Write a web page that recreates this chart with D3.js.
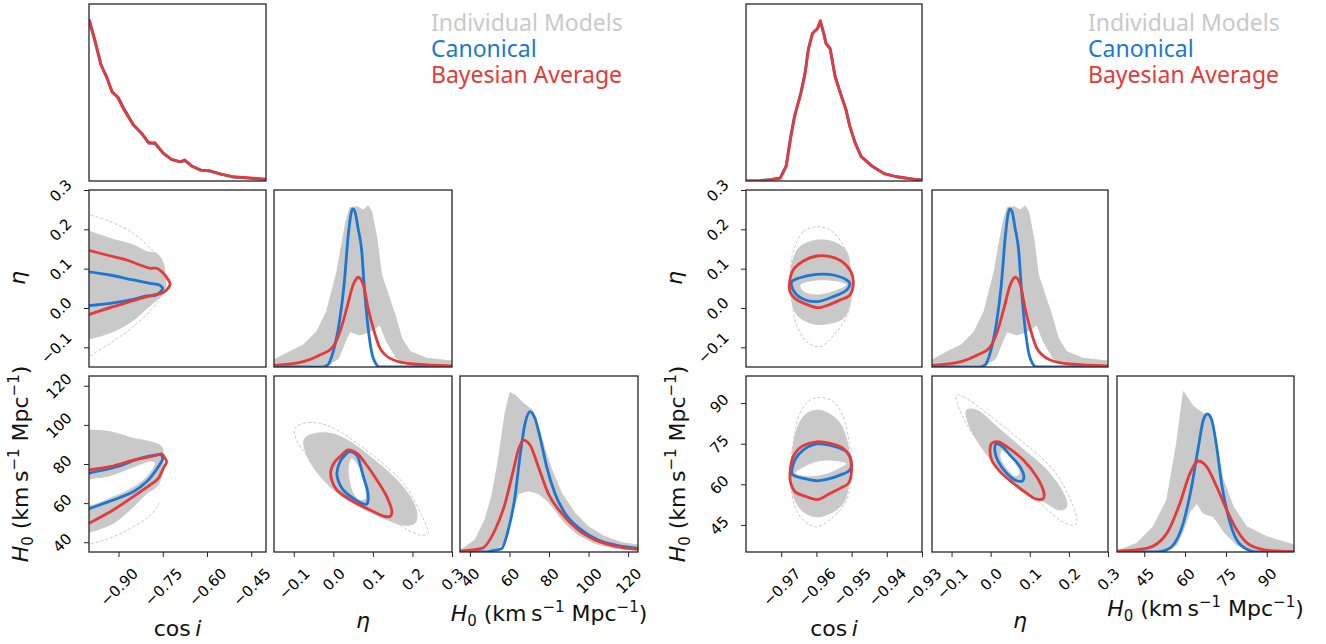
<!DOCTYPE html>
<html>
<head>
<meta charset="utf-8">
<script src="https://cdn.jsdelivr.net/npm/d3@7"></script>
<style>
  body { margin: 0; background: #fff; }
  text { white-space: pre; }
</style>
</head>
<body>
<svg id="chart" width="1326" height="644"></svg>
<script>
// ---- axis ranges and ticks ----
var leftCosRange  = [-1.0, -0.4],  rightCosRange = [-0.98, -0.93];
var etaRange      = [-0.15, 0.3];
var leftH0Range   = [35, 125],     rightH0Range  = [35, 100];
var leftCosTicks  = [-0.90, -0.75, -0.60, -0.45];
var rightCosTicks = [-0.97, -0.96, -0.95, -0.94, -0.93];
var etaTicks      = [-0.1, 0.0, 0.1, 0.2, 0.3];
var leftH0Ticks   = [40, 60, 80, 100, 120];
var rightH0Ticks  = [45, 60, 75, 90];
var legendLabels  = ['Individual Models', 'Canonical', 'Bayesian Average'];

// ---- 1d marginals: [value, density as fraction of panel height] ----
var leftCosRed  = [[-1.0,0.915],[-0.997,0.897],[-0.98,0.797],[-0.959,0.655],[-0.938,0.58],[-0.923,0.505],[-0.904,0.476],[-0.881,0.401],[-0.85,0.316],[-0.821,0.269],[-0.797,0.213],[-0.776,0.216],[-0.748,0.156],[-0.72,0.122],[-0.692,0.109],[-0.675,0.119],[-0.652,0.085],[-0.624,0.062],[-0.59,0.058],[-0.556,0.04],[-0.511,0.024],[-0.465,0.019],[-0.4,0.01]];
var leftCosBlue = [[-1.0,0.91],[-0.98,0.79],[-0.96,0.66],[-0.94,0.585],[-0.92,0.5],[-0.9,0.47],[-0.88,0.405],[-0.85,0.32],[-0.82,0.265],[-0.8,0.22],[-0.776,0.21],[-0.75,0.16],[-0.72,0.12],[-0.69,0.108],[-0.675,0.115],[-0.65,0.083],[-0.62,0.062],[-0.59,0.056],[-0.55,0.038],[-0.51,0.022],[-0.46,0.016],[-0.4,0.008]];
var rightCosRed  = [[-0.98,0],[-0.976,0.002],[-0.9735,0.006],[-0.9703,0.015],[-0.9686,0.081],[-0.9674,0.232],[-0.9662,0.363],[-0.9644,0.495],[-0.9632,0.608],[-0.9623,0.74],[-0.9611,0.834],[-0.9597,0.862],[-0.9589,0.906],[-0.9579,0.834],[-0.9573,0.778],[-0.9561,0.75],[-0.9547,0.589],[-0.9532,0.495],[-0.9516,0.401],[-0.9505,0.307],[-0.949,0.213],[-0.9473,0.137],[-0.9443,0.085],[-0.9407,0.04],[-0.9372,0.024],[-0.9325,0.011],[-0.93,0.006]];
var rightCosBlue = [[-0.98,0],[-0.976,0.002],[-0.9735,0.007],[-0.9703,0.017],[-0.9686,0.085],[-0.9674,0.24],[-0.9662,0.37],[-0.9644,0.5],[-0.9632,0.615],[-0.9623,0.745],[-0.9611,0.835],[-0.9597,0.86],[-0.9589,0.9],[-0.9579,0.83],[-0.9573,0.78],[-0.9561,0.745],[-0.9547,0.595],[-0.9532,0.5],[-0.9516,0.405],[-0.9505,0.31],[-0.949,0.218],[-0.9473,0.14],[-0.9443,0.087],[-0.9407,0.042],[-0.9372,0.024],[-0.9325,0.011],[-0.93,0.006]];

var etaBlue = [[-0.15,0],[-0.03,0],[-0.015,0.01],[0,0.09],[0.015,0.25],[0.027,0.46],[0.038,0.75],[0.045,0.87],[0.049,0.893],[0.055,0.875],[0.062,0.79],[0.072,0.65],[0.078,0.46],[0.088,0.22],[0.101,0.05],[0.118,0.0],[0.3,0]];
var etaRed  = [[-0.15,0.009],[-0.076,0.03],[-0.034,0.068],[-0.004,0.106],[0.017,0.2],[0.034,0.332],[0.05,0.463],[0.063,0.507],[0.076,0.463],[0.088,0.332],[0.101,0.218],[0.118,0.106],[0.152,0.04],[0.202,0.017],[0.3,0.006]];
var etaGreyTop    = [[-0.15,0.04],[-0.11,0.087],[-0.076,0.124],[-0.042,0.2],[-0.017,0.313],[0.009,0.539],[0.03,0.802],[0.042,0.9],[0.059,0.906],[0.076,0.887],[0.088,0.911],[0.097,0.877],[0.11,0.727],[0.122,0.52],[0.139,0.407],[0.156,0.294],[0.173,0.162],[0.194,0.087],[0.236,0.049],[0.3,0.034]];
var etaGreyBottom = [[0.3,0.006],[0.194,0.011],[0.16,0.049],[0.135,0.143],[0.118,0.237],[0.093,0.2],[0.067,0.181],[0.042,0.2],[0.03,0.143],[0.013,0.049],[-0.008,0.015],[-0.15,0.006]];

var leftH0Blue = [[35,0],[48,0],[51.0,0.006],[56.1,0.02],[59.4,0.125],[62.8,0.314],[65.3,0.541],[67.9,0.731],[70.4,0.797],[72.9,0.76],[75.4,0.655],[78.8,0.485],[83.0,0.333],[88.1,0.22],[96.5,0.125],[104.9,0.068],[113.4,0.04],[125,0.02]];
var leftH0Red  = [[35,0.005],[46.0,0.02],[52.7,0.125],[57.8,0.276],[62.0,0.466],[64.5,0.58],[67.0,0.636],[70.4,0.608],[74.6,0.485],[79.6,0.333],[86.4,0.22],[94.8,0.125],[103.3,0.068],[113.4,0.034],[125,0.016]];
var leftH0GreyTop    = [[35,0.008],[42.6,0.068],[47.6,0.182],[51.0,0.314],[54.4,0.523],[57.8,0.788],[60.3,0.905],[62.8,0.892],[66.2,0.854],[71.3,0.807],[74.6,0.712],[78.0,0.58],[81.4,0.466],[86.4,0.333],[93.1,0.22],[99.9,0.144],[108.3,0.087],[116.8,0.053],[125,0.04]];
var leftH0GreyBottom = [[125,0.008],[113.4,0.021],[103.3,0.049],[94.8,0.097],[88.1,0.163],[83.0,0.239],[79.6,0.286],[74.6,0.333],[69.5,0.348],[64.5,0.333],[62.0,0.239],[59.4,0.125],[56.9,0.049],[52.7,0.011],[35,0.002]];

var rightH0Blue = [[35,0],[50,0],[52.0,0.006],[55.1,0.03],[59.3,0.163],[62.4,0.371],[64.9,0.598],[66.7,0.75],[68.2,0.784],[69.8,0.75],[71.6,0.598],[73.4,0.39],[75.9,0.201],[79.0,0.068],[83.2,0.011],[86,0],[100,0]];
var rightH0Red  = [[35,0.005],[45.9,0.021],[53.3,0.106],[58.1,0.277],[61.8,0.447],[64.9,0.517],[67.9,0.485],[71.6,0.371],[75.3,0.239],[79.0,0.125],[83.8,0.04],[91.2,0.008],[100,0.002]];
var rightH0GreyTop    = [[35,0.006],[42.2,0.049],[48.3,0.144],[53.3,0.295],[56.9,0.617],[59.4,0.911],[63.0,0.826],[66.7,0.788],[69.2,0.769],[71.6,0.598],[74.0,0.409],[77.7,0.257],[82.6,0.144],[90.0,0.087],[100,0.04]];
var rightH0GreyBottom = [[100,0.002],[85.1,0.011],[79.0,0.04],[74.7,0.106],[70.4,0.201],[66.7,0.22],[64.3,0.277],[61.8,0.229],[59.4,0.125],[56.9,0.04],[53.3,0.008],[35,0.002]];

// ---- 2d contours: [x value, y value] ----
// left corner, eta vs cos i (open at the left edge)
var leftEtaCosRed  = [[-1.005,0.1475],[-0.94,0.1347],[-0.872,0.122],[-0.827,0.1093],[-0.793,0.101],[-0.771,0.101],[-0.748,0.0883],[-0.731,0.0712],[-0.725,0.061],[-0.737,0.0458],[-0.754,0.0374],[-0.782,0.033],[-0.804,0.0288],[-0.85,0.0186],[-0.918,0.0033],[-1.005,-0.0178]];
var leftEtaCosBlue = [[-1.005,0.0923],[-0.929,0.0839],[-0.85,0.0712],[-0.793,0.0628],[-0.762,0.0585],[-0.754,0.0542],[-0.75,0.05],[-0.771,0.033],[-0.804,0.0305],[-0.85,0.0221],[-0.929,0.0119],[-1.005,0.0059]];
var leftEtaCosGrey = [[-1.01,0.198],[-0.929,0.177],[-0.85,0.16],[-0.804,0.143],[-0.771,0.139],[-0.748,0.114],[-0.742,0.08],[-0.739,0.063],[-0.748,0.037],[-0.771,0.02],[-0.804,-0.001],[-0.85,-0.031],[-0.918,-0.06],[-1.01,-0.081]];
var leftEtaCosDashTop    = [[-1.01,0.24],[-0.93,0.22],[-0.85,0.19],[-0.79,0.15],[-0.765,0.13]];
var leftEtaCosDashBottom = [[-1.01,-0.128],[-0.929,-0.09],[-0.85,-0.0475],[-0.771,0.012],[-0.752,0.04]];

// left corner, H0 vs cos i
var leftH0CosRed  = [[-1.005,76.9],[-0.929,78.6],[-0.85,82.0],[-0.804,83.4],[-0.771,84.6],[-0.754,85.1],[-0.742,82.9],[-0.737,81.2],[-0.748,77.8],[-0.765,72.7],[-0.793,69.3],[-0.85,63.3],[-0.918,56.5],[-1.005,49.3]];
var leftH0CosBlue = [[-1.005,75.2],[-0.906,78.6],[-0.827,82.9],[-0.771,84.6],[-0.756,84.6],[-0.75,82.9],[-0.765,78.6],[-0.804,71.0],[-0.85,65.8],[-0.918,61.6],[-1.005,56.9]];
var leftH0CosGrey = [[-1.01,97.4],[-0.929,96.5],[-0.85,93.1],[-0.793,91.4],[-0.754,88.8],[-0.748,82.0],[-0.754,73.5],[-0.771,68.4],[-0.804,65.0],[-0.85,58.2],[-0.918,49.7],[-1.01,44.6]];
var leftH0CosHole = [[-1.01,71],[-0.93,74],[-0.85,78.5],[-0.79,81.5],[-0.775,80.5],[-0.8,74],[-0.85,68],[-0.92,63],[-1.01,59]];
var leftH0CosDash = [[-1.01,38.6],[-0.93,42],[-0.85,47.9],[-0.79,54],[-0.76,60]];

// left corner, H0 vs eta
var leftH0EtaRed  = [[0.038,87.2],[0.059,85.5],[0.084,79.5],[0.11,71.8],[0.135,63.3],[0.148,55.6],[0.143,53.1],[0.126,53.4],[0.093,56.5],[0.05,60.8],[0.009,66.7],[-0.004,71.8],[-0.006,76.9],[0.004,81.2],[0.021,84.6]];
var leftH0EtaBlue = [[0.042,86.3],[0.059,84.6],[0.067,80.4],[0.076,73.5],[0.086,66.7],[0.088,61.6],[0.084,59.4],[0.072,59.9],[0.05,62.5],[0.025,66.7],[0.013,71.0],[0.009,75.2],[0.017,81.2],[0.03,84.6]];
var leftH0EtaGrey = [[-0.072,93.1],[-0.042,95.7],[0.0,95.3],[0.042,91.4],[0.093,83.7],[0.152,73.5],[0.194,63.3],[0.211,54.8],[0.206,49.7],[0.177,48.8],[0.118,53.1],[0.05,59.9],[-0.008,68.4],[-0.051,78.6],[-0.072,87.2]];
var leftH0EtaHole = [[0.046,82.9],[0.063,79.5],[0.076,71.8],[0.083,62.5],[0.067,61.3],[0.05,65.0],[0.04,71.8],[0.038,78.6]];
var leftH0EtaDash = [[-0.097,98.2],[-0.076,100.8],[-0.034,100.8],[0.009,97.4],[0.093,85.5],[0.177,70.1],[0.236,47.9],[0.24,44.5],[0.219,43.7],[0.16,49.7],[0.05,63.3],[-0.034,76.9],[-0.093,92.3]];

// right corner, eta vs cos i
var rightEtaCosRed  = [[-0.9677,0.0585],[-0.9666,0.0966],[-0.9637,0.1195],[-0.9599,0.1322],[-0.9561,0.1305],[-0.9524,0.1161],[-0.9502,0.0923],[-0.9495,0.0653],[-0.9505,0.033],[-0.9533,0.0203],[-0.9561,0.0093],[-0.9595,0.0008],[-0.9628,0.0093],[-0.9661,0.0246],[-0.9675,0.0415]];
var rightEtaCosBlue = [[-0.967,0.0669],[-0.9647,0.077],[-0.9599,0.0855],[-0.9552,0.0839],[-0.9514,0.0712],[-0.9505,0.0627],[-0.9514,0.0458],[-0.9552,0.0288],[-0.9599,0.0161],[-0.9642,0.0246],[-0.9666,0.0458]];
var rightEtaCosGrey = [[-0.967,0.1093],[-0.9651,0.1517],[-0.9618,0.1686],[-0.958,0.1729],[-0.9542,0.1644],[-0.9514,0.1432],[-0.9505,0.1093],[-0.95,0.0585],[-0.9505,0.0076],[-0.9524,-0.0262],[-0.9561,-0.0389],[-0.9599,-0.0415],[-0.9637,-0.0305],[-0.9661,-0.0094],[-0.967,0.0246],[-0.9673,0.0669]];
var rightEtaCosHole = [[-0.9647,0.0585],[-0.9599,0.0712],[-0.9533,0.0669],[-0.9514,0.0585],[-0.9552,0.0415],[-0.9599,0.033],[-0.9637,0.0415]];
var rightEtaCosDash = [[-0.9666,0.1432],[-0.9637,0.194],[-0.9599,0.2067],[-0.9561,0.1983],[-0.9524,0.1602],[-0.9505,0.1093],[-0.95,0.05],[-0.9509,-0.0094],[-0.9542,-0.0601],[-0.959,-0.0983],[-0.9628,-0.0856],[-0.9656,-0.0432],[-0.967,0.0161],[-0.9675,0.0839]];

// right corner, H0 vs cos i
var rightH0CosRed  = [[-0.9675,64.1],[-0.9666,70.2],[-0.9642,73.9],[-0.9599,75.7],[-0.9561,75.1],[-0.9524,73.3],[-0.9505,70.2],[-0.95,65.3],[-0.9509,60.4],[-0.9533,58.5],[-0.9561,56.7],[-0.9595,54.4],[-0.9628,55.4],[-0.9661,57.3],[-0.9673,60.4]];
var rightH0CosBlue = [[-0.967,64.1],[-0.9661,69.0],[-0.9637,72.7],[-0.9599,74.9],[-0.9552,74.1],[-0.9514,72.0],[-0.9502,69.0],[-0.9505,65.3],[-0.9533,63.4],[-0.9571,61.8],[-0.9599,61.3],[-0.9637,62.2],[-0.9666,63.4]];
var rightH0CosGrey = [[-0.967,69.0],[-0.9656,80.1],[-0.9632,85.6],[-0.9599,87.4],[-0.9566,86.2],[-0.9533,82.5],[-0.9514,76.4],[-0.9505,69.0],[-0.9509,59.1],[-0.9524,53.0],[-0.9561,49.3],[-0.9599,48.0],[-0.9637,49.9],[-0.9661,54.2],[-0.9673,61.6]];
var rightH0CosHole = [[-0.9661,64.1],[-0.9618,67.7],[-0.9571,69.0],[-0.9514,67.7],[-0.9542,65.3],[-0.958,63.4],[-0.9628,62.8]];
var rightH0CosDash = [[-0.9666,75.1],[-0.9647,86.2],[-0.9618,91.1],[-0.959,92.1],[-0.9552,90.5],[-0.9524,85.0],[-0.9505,73.9],[-0.95,65.3],[-0.9514,54.2],[-0.9552,48.0],[-0.9599,44.3],[-0.9637,46.8],[-0.9661,51.7],[-0.9673,60.4],[-0.9672,69.0]];

// right corner, H0 vs eta
var rightH0EtaRed  = [[0.0026,75.1],[0.0196,75.7],[0.041,73.9],[0.0834,69.0],[0.1177,62.8],[0.1364,56.7],[0.1346,54.8],[0.1177,54.5],[0.0921,56.7],[0.0579,60.4],[0.0239,64.7],[0.0026,69.0],[-0.0017,72.7]];
var rightH0EtaBlue = [[0.0136,74.9],[0.0282,74.1],[0.0494,70.8],[0.075,66.5],[0.0852,62.8],[0.0818,61.3],[0.0665,61.3],[0.041,64.1],[0.0196,68.4],[0.0111,72.0]];
var rightH0EtaGrey = [[-0.0613,87.4],[-0.0357,87.4],[0.0156,81.3],[0.075,73.9],[0.1432,65.3],[0.1857,56.7],[0.1944,51.7],[0.1773,50.5],[0.1432,53.0],[0.075,59.1],[0.0156,66.5],[-0.0357,76.4],[-0.057,82.5]];
var rightH0EtaHole = [[0.0282,72.7],[0.0579,69.0],[0.075,64.1],[0.0622,62.8],[0.0366,66.5],[0.0239,70.2]];
var rightH0EtaDash = [[-0.0869,93.0],[-0.0699,92.4],[-0.0101,86.2],[0.075,76.4],[0.1602,65.3],[0.2113,51.7],[0.2199,45.5],[0.2071,44.9],[0.1773,46.8],[0.1006,56.7],[0.0156,67.7],[-0.0528,80.1],[-0.0852,89.9]];

// ---- style ----
var BLUE = '#1c77d2', RED = '#e43a3a', GREY = '#c9c9c9', FRAME = '#262626';
var TICK_FONT = 'DejaVu Sans';
var svg = d3.select('#chart');
var fmt2 = d3.format('.2f'), fmt1 = d3.format('.1f'), fmt0 = d3.format('d');
var clipCount = 0;

function makePanel(xr, yr, xdom, ydom) {
    var id = 'clip' + (clipCount++);
    var x = d3.scaleLinear().domain(xdom).range(xr);
    var y = d3.scaleLinear().domain(ydom).range([yr[1], yr[0]]);
    svg.append('clipPath').attr('id', id).append('rect')
        .attr('x', xr[0]).attr('y', yr[0])
        .attr('width', xr[1] - xr[0]).attr('height', yr[1] - yr[0]);
    var g = svg.append('g').attr('clip-path', 'url(#' + id + ')');
    return { x: x, y: y, g: g, xr: xr, yr: yr };
}

function frame(p) {
    svg.append('rect')
        .attr('x', p.xr[0]).attr('y', p.yr[0])
        .attr('width', p.xr[1] - p.xr[0]).attr('height', p.yr[1] - p.yr[0])
        .attr('fill', 'none').attr('stroke', FRAME).attr('stroke-width', 1.3);
}

function line(p, curve) {
    return d3.line().x(function(d) { return p.x(d[0]); })
                    .y(function(d) { return p.y(d[1]); }).curve(curve);
}

function stroke(p, data, color, width, curve, dash) {
    p.g.append('path').datum(data)
        .attr('d', line(p, curve))
        .attr('fill', 'none').attr('stroke', color)
        .attr('stroke-width', width).attr('stroke-linejoin', 'round')
        .attr('stroke-dasharray', dash || null);
}

function greyBand(p, top, bottom) {
    p.g.append('path').datum(top.concat(bottom))
        .attr('d', line(p, d3.curveLinearClosed))
        .attr('fill', GREY).attr('stroke', GREY).attr('stroke-width', 1);
}

function greyRegion(p, outer, hole, curve) {
    var d = line(p, curve)(outer) + (hole ? line(p, d3.curveCatmullRomClosed)(hole) : '');
    p.g.append('path').attr('d', d)
        .attr('fill', GREY).attr('fill-rule', 'evenodd')
        .attr('stroke', GREY).attr('stroke-width', 1);
}

function bottomAxis(p, ticks, fmt) {
    var ax = svg.append('g')
        .attr('transform', 'translate(0,' + p.yr[1] + ')')
        .call(d3.axisBottom(p.x).tickValues(ticks).tickFormat(fmt).tickSize(5));
    ax.select('.domain').remove();
    ax.attr('font-size', 15).attr('font-family', TICK_FONT).attr('color', FRAME);
    ax.selectAll('text').attr('fill', '#000').each(function() {
        var w = (this.getComputedTextLength() + 11) * 0.7071;
        d3.select(this).attr('y', 0).attr('dy', '0.35em').attr('text-anchor', 'middle')
            .attr('transform', 'translate(0,' + (15 + w / 2) + ') rotate(-45)');
    });
}

function leftAxis(p, ticks, fmt) {
    var ax = svg.append('g')
        .attr('transform', 'translate(' + p.xr[0] + ',0)')
        .call(d3.axisLeft(p.y).tickValues(ticks).tickFormat(fmt).tickSize(5));
    ax.select('.domain').remove();
    ax.attr('font-size', 15).attr('font-family', TICK_FONT).attr('color', FRAME);
    ax.selectAll('text').attr('fill', '#000').each(function() {
        var w = (this.getComputedTextLength() + 11) * 0.7071;
        d3.select(this).attr('x', 0).attr('dy', '0.35em').attr('text-anchor', 'middle')
            .attr('transform', 'translate(' + (-16 - w / 2) + ',0) rotate(-45)');
    });
}

function h0Label(t) {
    t.append('tspan').attr('font-style', 'italic').text('H');
    t.append('tspan').attr('font-size', 15).attr('dy', 5).text('0');
    t.append('tspan').attr('dy', -5).text(' (km\u2009s');
    t.append('tspan').attr('font-size', 15).attr('dy', -9).text('\u22121');
    t.append('tspan').attr('dy', 9).text(' Mpc');
    t.append('tspan').attr('font-size', 15).attr('dy', -9).text('\u22121');
    t.append('tspan').attr('dy', 9).text(')');
}

function label(x, y, rotate, kind) {
    var t = svg.append('text')
        .attr('transform', 'translate(' + x + ',' + y + ')' + (rotate ? ' rotate(-90)' : ''))
        .attr('text-anchor', 'middle')
        .attr('font-family', 'DejaVu Sans').attr('font-size', 22).attr('fill', '#111');
    if (kind === 'cos') {
        t.append('tspan').text('cos\u2009');
        t.append('tspan').attr('font-style', 'italic').text('i');
    } else if (kind === 'eta') {
        t.append('tspan').attr('font-style', 'italic').text('\u03b7');
    } else {
        h0Label(t);
    }
}

function corner(c) {
    var cols = c.cols, rows = [[4, 181], [190, 367], [376, 552]];

    // cos i marginal
    var p = makePanel(cols[0], rows[0], c.cosRange, [0, 1]);
    stroke(p, c.cosBlue, BLUE, 2.8, d3.curveLinear);
    stroke(p, c.cosRed, RED, 2.8, d3.curveLinear);
    frame(p);

    // eta vs cos i
    p = makePanel(cols[0], rows[1], c.cosRange, etaRange);
    greyRegion(p, c.etaCos.grey, c.etaCos.hole, c.etaCos.curve);
    c.etaCos.dash.forEach(function(d) {
        stroke(p, d, GREY, 1, c.etaCos.dashCurve, '3,2');
    });
    stroke(p, c.etaCos.blue, BLUE, 2.8, c.etaCos.curve);
    stroke(p, c.etaCos.red, RED, 2.8, c.etaCos.curve);
    frame(p);
    leftAxis(p, etaTicks, fmt1);

    // eta marginal
    p = makePanel(cols[1], rows[1], etaRange, [0, 1]);
    greyBand(p, etaGreyTop, etaGreyBottom);
    stroke(p, etaBlue, BLUE, 2.8, d3.curveMonotoneX);
    stroke(p, etaRed, RED, 2.8, d3.curveMonotoneX);
    frame(p);

    // H0 vs cos i
    p = makePanel(cols[0], rows[2], c.cosRange, c.h0Range);
    greyRegion(p, c.h0Cos.grey, c.h0Cos.hole, c.etaCos.curve);
    c.h0Cos.dash.forEach(function(d) {
        stroke(p, d, GREY, 1, c.etaCos.dashCurve, '3,2');
    });
    stroke(p, c.h0Cos.blue, BLUE, 2.8, c.etaCos.curve);
    stroke(p, c.h0Cos.red, RED, 2.8, c.etaCos.curve);
    frame(p);
    leftAxis(p, c.h0Ticks, fmt0);
    bottomAxis(p, c.cosTicks, fmt2);

    // H0 vs eta
    p = makePanel(cols[1], rows[2], etaRange, c.h0Range);
    greyRegion(p, c.h0Eta.grey, c.h0Eta.hole, d3.curveCatmullRomClosed);
    stroke(p, c.h0Eta.dash, GREY, 1, d3.curveCatmullRomClosed, '3,2');
    stroke(p, c.h0Eta.blue, BLUE, 2.8, d3.curveCatmullRomClosed);
    stroke(p, c.h0Eta.red, RED, 2.8, d3.curveCatmullRomClosed);
    frame(p);
    bottomAxis(p, etaTicks, fmt1);

    // H0 marginal
    p = makePanel(cols[2], rows[2], c.h0Range, [0, 1]);
    greyBand(p, c.h0GreyTop, c.h0GreyBottom);
    stroke(p, c.h0Blue, BLUE, 2.8, d3.curveMonotoneX);
    stroke(p, c.h0Red, RED, 2.8, d3.curveMonotoneX);
    frame(p);
    bottomAxis(p, c.h0Ticks, fmt0);

    // axis labels
    var dx = cols[0][0] - 89;
    label((cols[0][0] + cols[0][1]) / 2, 636, false, 'cos');
    label((cols[1][0] + cols[1][1]) / 2, 628, false, 'eta');
    label((cols[2][0] + cols[2][1]) / 2, c.h0LabelY, false, 'h0');
    label(25 + dx, 278, true, 'eta');
    label(28 + dx, 464, true, 'h0');

    // legend
    var colors = [GREY, BLUE, RED];
    svg.append('g').selectAll('text').data(legendLabels).enter().append('text')
        .attr('x', c.legendX)
        .attr('y', function(d, i) { return 31 + i * 26; })
        .attr('font-family', 'Noto Sans').attr('font-size', 23)
        .attr('fill', function(d, i) { return colors[i]; })
        .text(function(d) { return d; });
}

corner({
    cols: [[89, 266], [274, 452], [460, 638]],
    cosRange: leftCosRange, cosTicks: leftCosTicks,
    h0Range: leftH0Range, h0Ticks: leftH0Ticks,
    cosRed: leftCosRed, cosBlue: leftCosBlue,
    etaCos: { grey: leftEtaCosGrey, hole: null, dash: [leftEtaCosDashTop, leftEtaCosDashBottom],
              red: leftEtaCosRed, blue: leftEtaCosBlue,
              curve: d3.curveCatmullRom, dashCurve: d3.curveCatmullRom },
    h0Cos:  { grey: leftH0CosGrey, hole: leftH0CosHole, dash: [leftH0CosDash],
              red: leftH0CosRed, blue: leftH0CosBlue },
    h0Eta:  { grey: leftH0EtaGrey, hole: leftH0EtaHole, dash: leftH0EtaDash,
              red: leftH0EtaRed, blue: leftH0EtaBlue },
    h0Red: leftH0Red, h0Blue: leftH0Blue,
    h0GreyTop: leftH0GreyTop, h0GreyBottom: leftH0GreyBottom,
    h0LabelY: 621, legendX: 431
});

corner({
    cols: [[746, 922], [932, 1108], [1117, 1294]],
    cosRange: rightCosRange, cosTicks: rightCosTicks,
    h0Range: rightH0Range, h0Ticks: rightH0Ticks,
    cosRed: rightCosRed, cosBlue: rightCosBlue,
    etaCos: { grey: rightEtaCosGrey, hole: rightEtaCosHole, dash: [rightEtaCosDash],
              red: rightEtaCosRed, blue: rightEtaCosBlue,
              curve: d3.curveCatmullRomClosed, dashCurve: d3.curveCatmullRomClosed },
    h0Cos:  { grey: rightH0CosGrey, hole: rightH0CosHole, dash: [rightH0CosDash],
              red: rightH0CosRed, blue: rightH0CosBlue },
    h0Eta:  { grey: rightH0EtaGrey, hole: rightH0EtaHole, dash: rightH0EtaDash,
              red: rightH0EtaRed, blue: rightH0EtaBlue },
    h0Red: rightH0Red, h0Blue: rightH0Blue,
    h0GreyTop: rightH0GreyTop, h0GreyBottom: rightH0GreyBottom,
    h0LabelY: 616, legendX: 1088
});
</script>
</body>
</html>
